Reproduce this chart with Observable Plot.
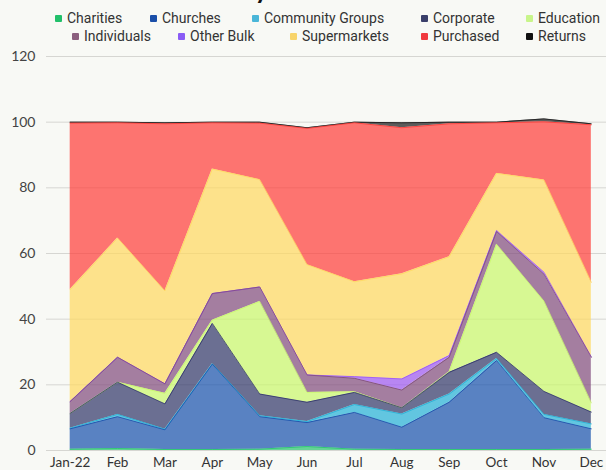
<!DOCTYPE html>
<html>
<head>
<meta charset="utf-8">
<script src="https://cdn.jsdelivr.net/npm/d3@7"></script>
<script src="https://cdn.jsdelivr.net/npm/@observablehq/plot@0.6"></script>
<style>
  html, body { margin: 0; padding: 0; background: #f8f9f5; overflow: hidden; }
  #wrap { position: relative; width: 606px; height: 470px; }
  #title { position: absolute; left: 0; width: 606px; top: -24px; text-align: center;
           font: 700 26px/26px Lato, sans-serif; color: #111; white-space: nowrap; }
  .lg { position: absolute; display: flex; align-items: center; font: 14px Roboto, sans-serif; color: #333; white-space: nowrap; }
  .sw { width: 7px; height: 7px; margin-right: 5px; border-radius: 1px; }
  #chart { position: absolute; left: 0; top: 46px; }
</style>
</head>
<body>
<div id="wrap">
  <div id="title">Monthly Stock Sources</div>
  <div id="legend"></div>
  <div id="chart"></div>
</div>
<script>
const months = ["Jan-22","Feb","Mar","Apr","May","Jun","Jul","Aug","Sep","Oct","Nov","Dec"];
const seriesNames = ["Charities","Churches","Community Groups","Corporate","Education","Individuals","Other Bulk","Supermarkets","Purchased","Returns"];
const seriesColors = ["#26c56e","#1550ad","#22b0d7","#2f3468","#c9f86a","#804a7c","#9c55f2","#ffd95e","#ff3c38","#1a1a1a"];
const legendColors = ["#22c06a","#1a4fa8","#4ab6d8","#3a3f6a","#c8f58a","#8b5f7e","#8a5cf5","#f8d46a","#f0393e","#111111"];
const yTicks = [0,20,40,60,80,100,120];

const charities    = [0.4, 0.6, 0.3, 0.3, 0.4, 1.2, 0.4, 0.3, 0.3, 0.3, 0.3, 0.4];
const churches     = [6.2, 9.7, 6.0, 26.0, 9.9, 7.3, 11.2, 6.8, 14.4, 27.1, 9.7, 6.2];
const community    = [0.2, 0.7, 0.2, 0.1, 0.3, 0.3, 2.4, 4.0, 2.5, 0.6, 1.0, 1.5];
const corporate    = [4.5, 9.8, 7.7, 12.3, 6.6, 5.9, 3.7, 1.9, 6.6, 1.9, 7.0, 3.6];
const education    = [0, 0, 3.2, 1.0, 28.2, 3.0, 0.2, 0, 0.2, 32.9, 27.5, 2.8];
const individuals  = [3.6, 7.6, 2.9, 8.1, 4.4, 5.3, 4.1, 5.4, 4.4, 3.9, 8.2, 13.9];
const otherBulk    = [0, 0, 0, 0, 0, 0, 0.5, 3.4, 0.5, 0.3, 0.6, 0.1];
const supermarkets = [34.1, 36.3, 28.3, 37.9, 32.7, 33.6, 28.9, 32.0, 30.1, 17.4, 28.1, 22.7];
const purchased    = [50.7, 35.1, 50.9, 14.1, 17.2, 41.5, 48.4, 44.5, 40.5, 15.4, 17.7, 48.0];
const returns      = [0.3, 0.2, 0.3, 0.2, 0.3, 0.2, 0.2, 1.5, 0.5, 0.2, 0.9, 0.3];

const seriesValues = [charities, churches, community, corporate, education, individuals, otherBulk, supermarkets, purchased, returns];

const data = [];
seriesNames.forEach((s, k) => seriesValues[k].forEach((v, i) => data.push({series: s, i, value: v})));

// cumulative tops for the boundary lines (drawn top series first so lower boundaries stay visible)
const tops = [];
const running = months.map(() => 0);
seriesNames.forEach((s, k) => seriesValues[k].forEach((v, i) => { running[i] += v; tops.push({series: s, i, top: running[i], k}); }));
const topsReversed = tops.slice().sort((a, b) => b.k - a.k);

// legend
const legendLayout = [[55,18],[150,18],[252,18],[421,18],[526,18],[72,36],[178,36],[290,36],[421,36],[526,36]];
const lg = document.getElementById("legend");
seriesNames.forEach((s, k) => {
  const d = document.createElement("div");
  d.className = "lg";
  d.style.left = legendLayout[k][0] + "px";
  d.style.top = (legendLayout[k][1] - 9) + "px";
  d.style.height = "18px";
  d.innerHTML = `<span class="sw" style="background:${legendColors[k]}"></span><span>${s}</span>`;
  lg.appendChild(d);
});

const chart = Plot.plot({
  width: 606,
  height: 424,
  marginLeft: 46,
  marginRight: 0,
  marginTop: 10,
  marginBottom: 20,
  style: {background: "transparent", fontFamily: "Lato, sans-serif", color: "#333", overflow: "visible"},
  x: {domain: [-0.5, 11.32], axis: null},
  y: {domain: [0, 120], axis: null},
  color: {domain: seriesNames, range: seriesColors},
  marks: [
    Plot.gridY(yTicks, {stroke: "#d6d6d2", strokeOpacity: 1, strokeWidth: 1}),
    Plot.areaY(data, {x: "i", y: "value", z: "series", fill: "series", fillOpacity: 0.7}),
    Plot.lineY(topsReversed, {x: "i", y: "top", z: "series", stroke: "series", strokeWidth: 1, strokeOpacity: 0.8}),
    Plot.axisY(yTicks, {tickSize: 0, tickPadding: 11, fontSize: 14, label: null, fill: "#444"}),
    Plot.axisX(d3.range(12), {tickSize: 0, tickPadding: 7, fontSize: 13.5, label: null, fill: "#333", tickFormat: i => months[i]})
  ]
});
document.getElementById("chart").appendChild(chart);
</script>
</body>
</html>
